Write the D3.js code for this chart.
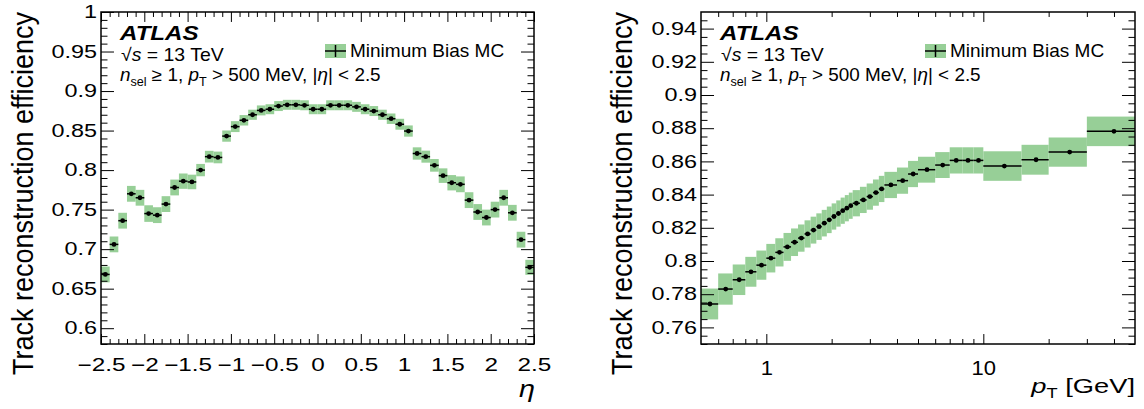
<!DOCTYPE html>
<html lang="en">
<head>
<meta charset="UTF-8">
<title>Track reconstruction efficiency</title>
<script src="https://d3js.org/d3.v7.min.js"></script>
<style>
  body { margin: 0; background: #fff; }
  svg { font-family: 'Liberation Sans', Arial, Helvetica, sans-serif; }
  .tick line { stroke: #000; stroke-width: 1; }
  .tick text { fill: #000; }
</style>
</head>
<body>
<script>
// eta bins (low edges + last high edge)
const etaEdges = [-2.5,-2.4,-2.3,-2.2,-2.1,-2.0,-1.9,-1.8,-1.7,-1.6,-1.5,-1.4,-1.3,-1.2,-1.1,-1.0,-0.9,-0.8,-0.7,-0.6,-0.5,-0.4,-0.3,-0.2,-0.1,0.0,
                  0.1,0.2,0.3,0.4,0.5,0.6,0.7,0.8,0.9,1.0,1.1,1.2,1.3,1.4,1.5,1.6,1.7,1.8,1.9,2.0,2.1,2.2,2.3,2.4,2.5];
const etaEff = [0.668,0.706,0.736,0.770,0.765,0.745,0.743,0.757,0.778,0.786,
                0.785,0.800,0.817,0.816,0.843,0.855,0.863,0.870,0.8755,0.877,
                0.881,0.8826,0.8826,0.882,0.877,0.877,0.882,0.882,0.882,0.880,
                0.877,0.8747,0.870,0.865,0.858,0.8494,0.821,0.817,0.806,0.793,
                0.784,0.782,0.762,0.747,0.740,0.750,0.765,0.746,0.712,0.677];
const etaErr = [0.0100,0.0100,0.0100,0.0100,0.0100,0.0105,0.0100,0.0100,0.0100,0.0097,
                0.0092,0.0078,0.0074,0.0074,0.0071,0.0069,0.0066,0.0064,0.0063,0.0063,
                0.0063,0.0063,0.0063,0.0063,0.0063,0.0063,0.0063,0.0063,0.0063,0.0063,
                0.0063,0.0063,0.0064,0.0066,0.0069,0.0071,0.0078,0.0076,0.0080,0.0092,
                0.0097,0.0100,0.0100,0.0100,0.0100,0.0100,0.0100,0.0100,0.0100,0.0095];

// pT bins [GeV]
const ptEdges = [0.5,0.6,0.7,0.8,0.9,1.0,1.1,1.2,1.3,1.4,1.5,1.6,1.7,1.8,1.9,2.0,2.1,2.2,2.3,2.4,2.5,
                 2.7,2.9,3.1,3.3,3.5,4,4.5,5,6,7,8,9,10,15,20,30,50];
const ptEff = [0.7741,0.7831,0.7887,0.7935,0.7975,0.8017,0.8052,0.8085,0.8113,0.8138,
               0.8163,0.8186,0.8207,0.8228,0.8248,0.8268,0.8286,0.8303,0.8318,0.8333,
               0.8348,0.8368,0.8388,0.8412,0.8434,
               0.8458,0.8484,0.8524,
               0.8550,0.8578,0.8606,0.8606,0.8606,
               0.8572,0.8610,0.8656,0.8781];
const ptErr = [0.0093,0.0094,0.0092,0.0090,0.0088,0.0086,0.0085,0.0084,0.0083,0.0082,
               0.0082,0.0081,0.0080,0.0080,0.0080,0.0079,0.0079,0.0079,0.0079,0.0079,
               0.0079,0.0079,0.0079,0.0079,0.0079,
               0.0079,0.0079,0.0079,
               0.0078,0.0078,0.0079,0.0079,0.0079,
               0.0089,0.0090,0.0088,0.0089];

const yTicksLeft = [0.6,0.65,0.7,0.75,0.8,0.85,0.9,0.95,1];
const xTicksLeft = [-2.5,-2,-1.5,-1,-0.5,0,0.5,1,1.5,2,2.5];
const yTicksRight = [0.76,0.78,0.8,0.82,0.84,0.86,0.88,0.9,0.92,0.94];
const xTicksRight = [1,10];
const ptMinor = [0.6,0.7,0.8,0.9,2,3,4,5,6,7,8,9,20,30,40];

const W = 1144, H = 409;
const green = '#97cf97';
const fmtNum = d => (d < 0 ? '\u2212' : '') + Math.abs(d);

const svg = d3.select('body').append('svg').attr('width', W).attr('height', H);

// stretch axis labels horizontally (the reference font runs wide)
function stretch(sel, k) {
  sel.each(function () {
    const t = d3.select(this);
    const tx = +t.attr('x') || 0, ty = +t.attr('y') || 0;
    t.attr('x', 0).attr('y', 0).attr('transform', `translate(${tx},${ty}) scale(${k},1)`);
  });
}

function panel(o) {
  const g = svg.append('g');
  const {x, y} = o;
  const [x0, x1] = x.range(), [y0, y1] = y.range();
  const pw = x1 - x0, ph = y0 - y1;
  const tx = 0.03 * ph, ty = 0.03 * pw;

  // error boxes
  g.append('g').selectAll('rect').data(o.vals).join('rect')
    .attr('x', (d, i) => x(o.edges[i]))
    .attr('width', (d, i) => x(o.edges[i + 1]) - x(o.edges[i]))
    .attr('y', (d, i) => y(d + o.errs[i]))
    .attr('height', (d, i) => y(d - o.errs[i]) - y(d + o.errs[i]))
    .attr('fill', green);

  // horizontal bars + markers
  g.append('g').selectAll('line').data(o.vals).join('line')
    .attr('x1', (d, i) => x(o.edges[i])).attr('x2', (d, i) => x(o.edges[i + 1]))
    .attr('y1', d => y(d)).attr('y2', d => y(d))
    .attr('stroke', '#000').attr('stroke-width', 1.5);
  g.append('g').selectAll('circle').data(o.vals).join('circle')
    .attr('cx', (d, i) => x((o.edges[i] + o.edges[i + 1]) / 2))
    .attr('cy', d => y(d)).attr('r', 2.4).attr('fill', '#000');

  // axes: ticks point inwards, mirrored on top/right
  const ax = (axisFn, scale, vals, size, pos, fmt, pad) => {
    const a = axisFn(scale).tickValues(vals).tickSize(size).tickPadding(pad || 0)
      .tickFormat(fmt || (() => ''));
    const gg = g.append('g').attr('transform', pos).call(a);
    gg.select('.domain').remove();
    return gg;
  };
  const xl = ax(d3.axisBottom, x, o.xMajor, -tx, `translate(0,${y0})`, o.xFmt, o.xPad);
  xl.selectAll('text').attr('font-size', o.xFont);
  stretch(xl.selectAll('text'), o.xStretch);
  ax(d3.axisBottom, x, o.xMinor, -tx / 2, `translate(0,${y0})`);
  ax(d3.axisTop, x, o.xMajor, -tx, `translate(0,${y1})`);
  ax(d3.axisTop, x, o.xMinor, -tx / 2, `translate(0,${y1})`);
  const yl = ax(d3.axisLeft, y, o.yMajor, -ty, `translate(${x0},0)`, d => String(d), 4);
  yl.selectAll('text').attr('font-size', 18);
  stretch(yl.selectAll('text'), 1.3);
  ax(d3.axisLeft, y, o.yMinor, -ty / 2, `translate(${x0},0)`);
  ax(d3.axisRight, y, o.yMajor, -ty, `translate(${x1},0)`);
  ax(d3.axisRight, y, o.yMinor, -ty / 2, `translate(${x1},0)`);

  g.append('rect').attr('x', x0).attr('y', y1).attr('width', pw).attr('height', ph)
    .attr('fill', 'none').attr('stroke', '#000').attr('stroke-width', 1.5);

  // y title
  g.append('text')
    .attr('transform', `translate(${o.titleX},${y1}) rotate(-90) scale(1,1.1)`)
    .attr('text-anchor', 'end').attr('font-size', 27)
    .text('Track reconstruction efficiency');

  // ATLAS label block
  const lx = x0 + 19;
  g.append('text').attr('transform', `translate(${lx},40) scale(1.15,1)`).attr('font-size', 21)
    .attr('font-weight', 'bold').attr('font-style', 'italic').text('ATLAS');
  const t1 = g.append('text').attr('transform', `translate(${lx + 1},61) scale(1.08,1)`).attr('font-size', 18);
  t1.append('tspan').text('\u221A');
  t1.append('tspan').attr('font-style', 'italic').text('s');
  t1.append('tspan').text(' = 13 TeV');
  const t2 = g.append('text').attr('transform', `translate(${lx},81) scale(1.05,1)`).attr('font-size', 18);
  t2.append('tspan').attr('font-style', 'italic').text('n');
  t2.append('tspan').attr('font-size', 12).attr('dy', 5).text('sel');
  t2.append('tspan').attr('dy', -5).text(' \u2265 1, ');
  t2.append('tspan').attr('font-style', 'italic').text('p');
  t2.append('tspan').attr('font-size', 12).attr('dy', 5).text('T');
  t2.append('tspan').attr('dy', -5).text(' > 500 MeV, |');
  t2.append('tspan').attr('font-style', 'italic').text('\u03B7');
  t2.append('tspan').text('| < 2.5');

  // legend
  const bx = o.legX;
  g.append('rect').attr('x', bx).attr('y', 44).attr('width', 21).attr('height', 14).attr('fill', green);
  g.append('line').attr('x1', bx).attr('x2', bx + 21).attr('y1', 51).attr('y2', 51)
    .attr('stroke', '#000').attr('stroke-width', 1.5);
  g.append('line').attr('x1', bx + 10.5).attr('x2', bx + 10.5).attr('y1', 45).attr('y2', 57)
    .attr('stroke', '#000').attr('stroke-width', 1.5);
  g.append('text').attr('x', bx + 25).attr('y', 57).attr('font-size', 19).text('Minimum Bias MC');
  return g;
}

// left: efficiency vs eta
const xEta = d3.scaleLinear().domain([-2.5, 2.5]).range([101, 534]);
const yEta = d3.scaleLinear().domain([0.58, 1]).range([344, 12]);
const gL = panel({
  x: xEta, y: yEta, edges: etaEdges, vals: etaEff, errs: etaErr,
  xMajor: xTicksLeft, xMinor: etaEdges.filter(v => !xTicksLeft.some(t => Math.abs(t - v) < 1e-6)),
  yMajor: yTicksLeft, yMinor: d3.range(58, 100).map(v => v / 100).filter(v => !yTicksLeft.some(t => Math.abs(t - v) < 1e-6)),
  xFmt: fmtNum, xFont: 18, xStretch: 1.35, xPad: 14,
  titleX: 33, legX: 325
});
gL.append('text').attr('transform', 'translate(519,397) scale(1.2,1)')
  .attr('font-size', 24).attr('font-style', 'italic').text('\u03B7');

// right: efficiency vs pT
const xPt = d3.scaleLog().domain([0.5, 50]).range([701, 1135]);
const yPt = d3.scaleLinear().domain([0.75, 0.95]).range([344, 12]);
const gR = panel({
  x: xPt, y: yPt, edges: ptEdges, vals: ptEff, errs: ptErr,
  xMajor: xTicksRight, xMinor: ptMinor,
  yMajor: yTicksRight, yMinor: d3.range(150, 190).map(v => v / 200).filter(v => !yTicksRight.some(t => Math.abs(t - v) < 1e-6)),
  xFmt: d => String(d), xFont: 20, xStretch: 1.1, xPad: 17,
  titleX: 632, legX: 925
});
const pl = gR.append('text').attr('transform', 'translate(1135,393) scale(1.3,1)')
  .attr('text-anchor', 'end').attr('font-size', 21);
pl.append('tspan').attr('font-style', 'italic').text('p');
pl.append('tspan').attr('font-size', 14).attr('dy', 5).text('T');
pl.append('tspan').attr('dy', -5).text(' [GeV]');
</script>
</body>
</html>
